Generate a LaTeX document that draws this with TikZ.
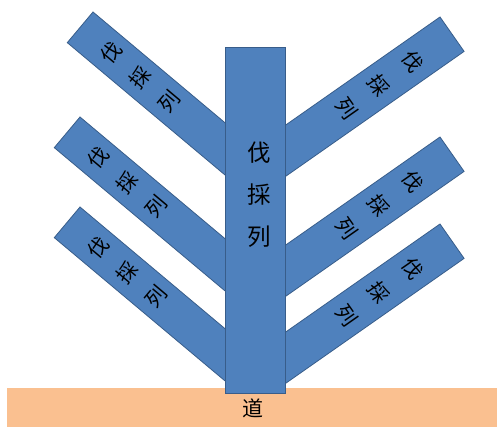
\documentclass[tikz,border=0pt]{standalone}
\usepackage{fontspec}
\newfontfamily\cjk{Noto Sans CJK SC}
\usetikzlibrary{calc}
\definecolor{bfill}{HTML}{4F81BD}
\definecolor{bline}{HTML}{385D8A}
\definecolor{ground}{HTML}{FAC090}
\begin{document}
\begin{tikzpicture}[x=1pt,y=-1pt,
  bar/.style={draw=bline, fill=bfill, line width=0.8pt, inner sep=0pt, outer sep=0pt},
  lbar/.style={bar, rotate=-40, anchor=north west, minimum height=40pt},
  rbar/.style={bar, rotate=35, anchor=north east, minimum height=42pt, minimum width=225pt},
  ltxt/.style={font=\cjk\fontsize{20.5}{20.5}\selectfont, rotate=50, inner sep=0pt},
  rtxt/.style={font=\cjk\fontsize{20.5}{20.5}\selectfont, rotate=-55, inner sep=0pt},
  ttxt/.style={font=\cjk\fontsize{23.5}{23.5}\selectfont, inner sep=0pt}]
\useasboundingbox (0,0) rectangle (497,427);
\node[fill=ground, inner sep=0pt, outer sep=0pt, minimum width=490pt, minimum height=39pt, anchor=north west] (road) at (7,388) {};
\node[lbar, minimum width=210pt] (L1) at (93,12) {};
\node[lbar, minimum width=228pt] (L2) at (80,117) {};
\node[lbar, minimum width=228pt] (L3) at (80,207) {};
\node[rbar] (R1) at (440,17) {};
\node[rbar] (R2) at (440,137) {};
\node[rbar] (R3) at (440,224) {};
\node[bar, minimum width=60pt, minimum height=346pt] (T) at (255,220) {};
\foreach \b in {L1,L2,L3}{
  \node[ltxt] (\b-1) at ($(\b.west)!40pt!(\b.east)$) {伐};
  \node[ltxt] (\b-2) at ($(\b.west)!78pt!(\b.east)$) {採};
  \node[ltxt] (\b-3) at ($(\b.west)!116pt!(\b.east)$) {列};
}
\foreach \b in {R1,R2,R3}{
  \node[rtxt] (\b-1) at ($(\b.east)!48pt!(\b.west)$) {伐};
  \node[rtxt] (\b-2) at ($(\b.east)!89pt!(\b.west)$) {採};
  \node[rtxt] (\b-3) at ($(\b.east)!129pt!(\b.west)$) {列};
}
\node[ttxt] (T-1) at (259,153) {伐};
\node[ttxt] (T-2) at (259,195) {採};
\node[ttxt] (T-3) at (259,237) {列};
\node[ttxt, font=\cjk\fontsize{21}{21}\selectfont] (road-t) at (253,408) {道};
\end{tikzpicture}
\end{document}
